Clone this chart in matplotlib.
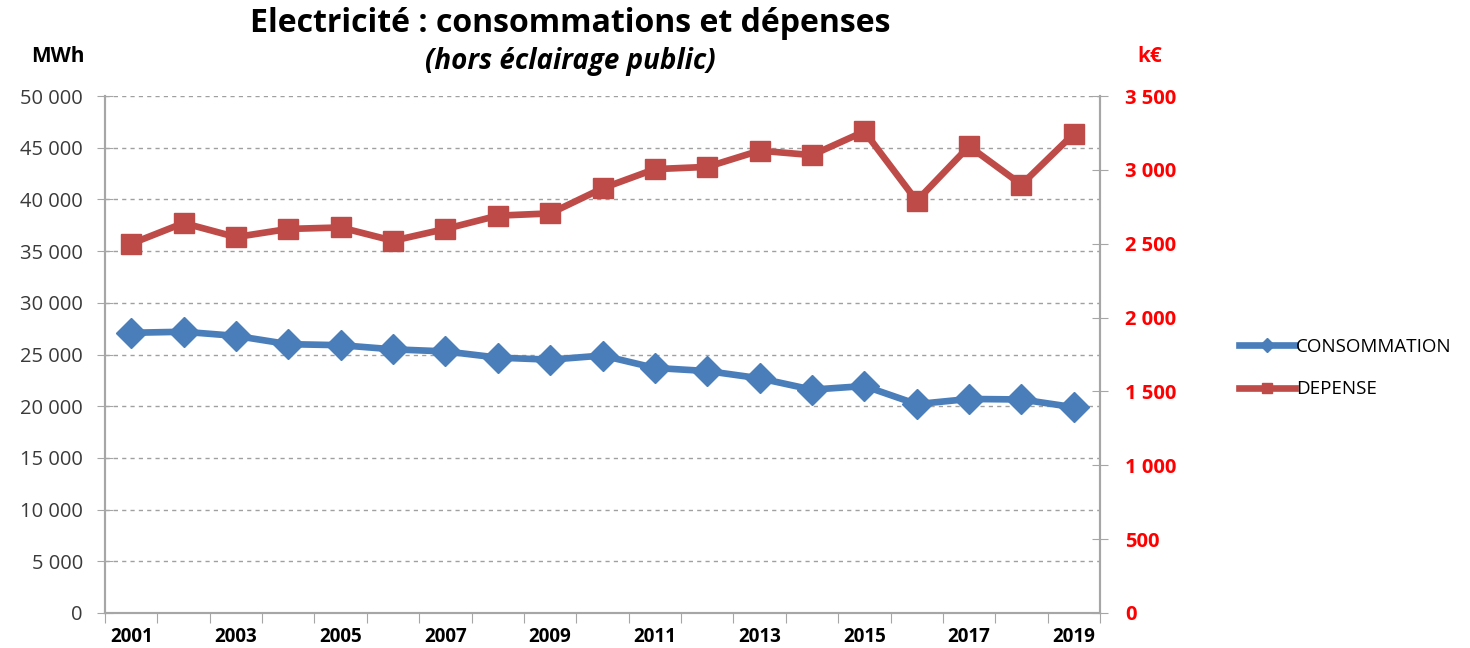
import numpy as np
import matplotlib.pyplot as plt
from matplotlib.ticker import FuncFormatter, MultipleLocator

# Donnees
annees = list(range(2001, 2020))
conso = [27100, 27200, 26800, 26000, 25900, 25500, 25300, 24700, 24500, 24900,
         23700, 23400, 22700, 21600, 21950, 20200, 20700, 20650, 19900]   # MWh
depense = [2500, 2640, 2545, 2600, 2610, 2520, 2600, 2690, 2705, 2875,
           3005, 3020, 3130, 3100, 3260, 2790, 3160, 2900, 3245]          # k€

bleu = "#4A7EBB"
rouge = "#BE4B48"
gris = "#A6A6A6"

plt.rcParams['font.family'] = ['Open Sans', 'DejaVu Sans']

def milliers(v, pos):
    return "{:,.0f}".format(v).replace(",", " ")

fig = plt.figure(figsize=(14.7, 6.48), dpi=100)
ax = fig.add_axes([105/1470, 1-613/648, 995/1470, 517/648])
ax2 = ax.twinx()

x = np.arange(len(annees))
l1, = ax.plot(x, conso, color=bleu, lw=4.8, marker="D", ms=15, zorder=3,
              label="CONSOMMATION")
l2, = ax2.plot(x, depense, color=rouge, lw=4.8, marker="s", ms=14, zorder=3,
               label="DEPENSE")

ax.set_xlim(-0.5, len(annees)-0.5)
ax.set_ylim(0, 50000)
ax2.set_ylim(0, 3500)
ax.yaxis.set_major_locator(MultipleLocator(5000))
ax2.yaxis.set_major_locator(MultipleLocator(500))
ax.yaxis.set_major_formatter(FuncFormatter(milliers))
ax2.yaxis.set_major_formatter(FuncFormatter(milliers))

# grille
ax.grid(axis="y", color="#A0A0A0", ls=(0, (3, 3)), lw=1)
ax.set_axisbelow(True)

# axe des x : graduations entre les categories, etiquettes une annee sur deux
ax.set_xticks(np.arange(-0.5, len(annees), 1.0))
ax.set_xticklabels([])
ax.set_xticks(x[::2], minor=True)
ax.set_xticklabels([str(a) for a in annees[::2]], minor=True,
                   fontsize=13.5, fontweight="bold")
ax.tick_params(axis="x", which="major", length=7, color=gris, direction="out")
ax.tick_params(axis="x", which="minor", length=0, pad=10)

for a in (ax, ax2):
    a.spines["top"].set_visible(False)
    for s in ("left", "right", "bottom"):
        a.spines[s].set_color(gris)
        a.spines[s].set_linewidth(1.5)

ax.tick_params(axis="y", length=12, direction="inout", color=gris,
               labelsize=14.5, labelcolor="#3A3A3A", pad=10)
ax2.tick_params(axis="y", length=12, direction="inout", color=gris,
                labelsize=14.5, pad=12, labelcolor="#FF0000")
for t in ax2.get_yticklabels():
    t.set_fontweight("bold")

fig.text(58/1470, 1-57/648, "MWh", fontsize=15, fontweight="bold",
         ha="center", va="center")
fig.text(1150/1470, 1-57/648, "k€", fontsize=15, fontweight="bold",
         color="#FF0000", ha="center", va="center")

fig.text(570/1470, 1-24/648, "Electricité : consommations et dépenses",
         fontsize=23, fontweight="bold", ha="center", va="center")
fig.text(570/1470, 1-61/648, "(hors éclairage public)", fontsize=20,
         fontweight="bold", style="italic", ha="center", va="center")

fig.legend(handles=[l1, l2], loc="center left",
           bbox_to_anchor=(1222/1470, 1-368/648), frameon=False,
           fontsize=13.5, handlelength=3.0, handletextpad=0.05,
           labelspacing=1.3, markerscale=0.5)

fig.savefig("out.png", dpi=100)
